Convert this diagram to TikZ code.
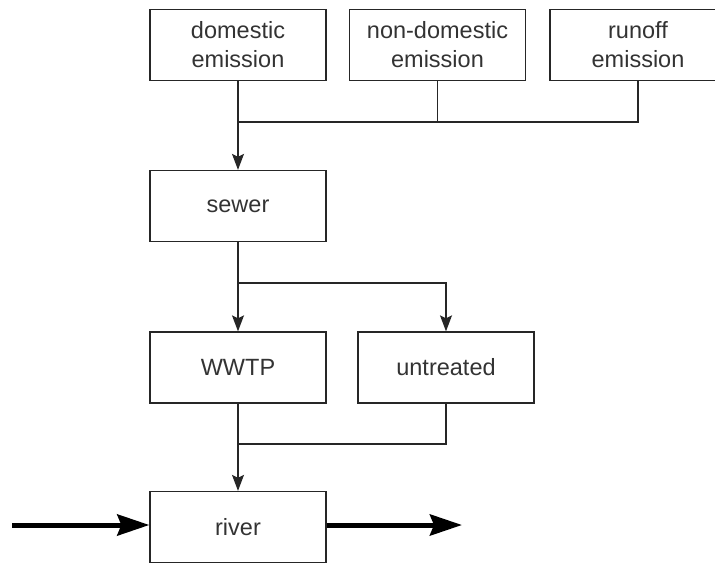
\documentclass[tikz,border=0pt]{standalone}
\usepackage{fontspec}
\setmainfont{Liberation Sans}
\usetikzlibrary{arrows.meta}
\begin{document}
\begin{tikzpicture}[x=1pt,y=1pt,
  box/.style={draw=black!85, line width=1.3pt, rectangle, minimum width=176pt, minimum height=71pt,
    inner sep=0pt, align=center, font=\fontsize{23.5}{29}\selectfont, text=black!80},
  con/.style={line width=1.3pt, draw=black!85},
  thinarrow/.style={con, -{Stealth[length=16pt,width=12pt,inset=3pt]}},
  thickarrow/.style={line width=5pt, -{Stealth[length=32pt,width=21pt,inset=4pt]}}]
\useasboundingbox (0,0) rectangle (715,-563);
\clip (0,0) rectangle (715,-563);
\node[box] (dom) at (238,-45) {domestic\\emission};
\node[box] (nondom) at (437.5,-45) {non-domestic\\emission};
\node[box] (runoff) at (638,-45) {runoff\\emission};
\node[box] (sewer) at (238,-206) {sewer};
\node[box] (wwtp) at (238,-367.5) {WWTP};
\node[box] (untr) at (446,-367.5) {untreated};
\node[box] (river) at (238,-527) {river};
\coordinate (j1) at (238,-122);
\coordinate (j2) at (238,-283);
\coordinate (j3) at (238,-444);
\coordinate (rin) at (12,-525);
\coordinate (rout) at (462,-525);
\draw[thinarrow] (dom.south) -- (sewer.north);
\draw[con] (runoff.south) |- (j1);
\draw[con] (nondom.south) -- (nondom.south |- j1);
\draw[thinarrow] (sewer.south) -- (wwtp.north);
\draw[thinarrow] (j2) -| (untr.north);
\draw[con] (untr.south) |- (j3);
\draw[thinarrow] (wwtp.south) -- (river.north);
\draw[thickarrow] (rin) -- (rin -| river.west);
\draw[thickarrow] (rout -| river.east) -- (rout);
\end{tikzpicture}
\end{document}
